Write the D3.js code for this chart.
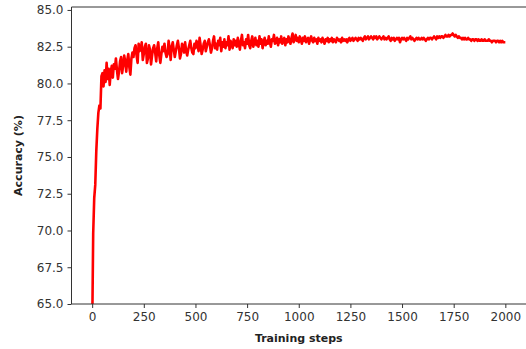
<!DOCTYPE html>
<html>
<head>
<meta charset="utf-8">
<script src="https://cdn.jsdelivr.net/npm/d3@7"></script>
<style>
  html, body { margin: 0; padding: 0; background: #fff; }
  svg { display: block; }
</style>
</head>
<body>
<svg id="chart" width="526" height="349"></svg>
<script>
// ---- data ----
const stepInterval = 5; // accuracy sampled every 5 training steps, from step 0 to 2000
const accuracy = [
  63.0, 69.8, 72.2, 73.1, 75.4, 76.9, 78.0, 78.5, 78.3, 80.5,
  80.7, 79.8, 80.9, 80.1, 81.4, 80.3, 81.0, 79.9, 80.8, 81.2,
  80.4, 81.3, 81.0, 81.7, 80.9, 80.3, 80.8, 81.5, 81.8, 80.7,
  81.2, 81.9, 81.5, 80.8, 81.6, 82.0, 81.1, 80.6, 81.7, 82.1,
  81.8, 82.4, 82.6, 81.9, 81.4, 82.7, 82.2, 82.3, 82.8, 81.6,
  82.0, 82.5, 82.7, 81.4, 81.7, 82.6, 82.3, 81.3, 81.9, 82.4,
  82.6, 82.1, 81.5, 82.4, 82.8, 81.9, 81.4, 82.0, 82.5, 82.2,
  82.7, 82.1, 81.8, 82.0, 82.9, 82.4, 81.6, 82.5, 82.8, 82.3,
  81.8, 82.2, 82.6, 82.9, 82.4, 81.7, 82.0, 82.7, 82.5, 82.1,
  82.8, 82.2, 81.9, 82.3, 82.6, 82.9, 82.4, 82.1, 82.0, 82.7,
  82.4, 82.9, 82.7, 82.2, 83.1, 82.6, 82.0, 82.3, 82.7, 82.9,
  82.2, 82.5, 82.8, 83.0, 82.6, 82.1, 82.4, 82.9, 83.2, 82.4,
  82.7, 82.3, 82.9, 82.6, 83.1, 82.2, 82.8, 82.5, 83.0, 82.4,
  82.8, 82.6, 83.2, 82.3, 82.9, 82.7, 82.4, 83.0, 82.6, 82.9,
  82.5, 83.1, 82.7, 82.3, 82.9, 83.3, 82.6, 82.8, 82.4, 83.0,
  82.7, 83.3, 82.6, 82.4, 82.9, 83.2, 82.5, 82.8, 83.1, 82.6,
  82.9, 82.5, 83.2, 82.7, 83.0, 82.4, 82.8, 83.1, 82.6, 82.9,
  82.7, 83.2, 82.8, 82.5, 83.0, 82.9, 83.3, 82.7, 82.8, 83.1,
  82.6, 83.0, 82.8, 83.2, 82.7, 82.9, 83.1, 82.6, 83.0, 82.8,
  83.2, 82.9, 82.7, 83.1, 83.4, 82.8, 83.0, 83.3, 82.9, 83.1,
  82.8, 83.2, 83.0, 82.7, 83.1, 82.9, 83.2, 82.8, 83.0, 83.1,
  82.7, 83.0, 83.2, 82.9, 82.8, 83.1, 82.9, 83.0, 82.7, 83.1,
  82.9, 83.0, 82.8, 83.1, 82.9, 82.7, 83.0, 82.9, 83.1, 82.8,
  83.0, 82.9, 83.1, 82.8, 83.0, 82.9, 82.8, 83.1, 83.0, 82.9,
  83.0, 82.8, 83.1, 82.9, 83.0, 82.9, 83.0, 82.8, 83.0, 83.1,
  82.9, 83.0, 83.1, 82.9, 83.0, 83.1, 83.0, 82.9, 83.1, 83.0,
  83.1, 83.0, 82.9, 83.1, 83.2, 83.0, 83.1, 83.2, 83.0, 83.1,
  83.2, 83.1, 83.0, 83.2, 83.1, 83.2, 83.0, 83.1, 83.2, 83.1,
  83.0, 83.1, 83.2, 83.0, 83.1, 83.0, 83.1, 83.2, 83.0, 82.9,
  83.1, 83.0, 83.1, 82.9, 83.0, 83.1, 83.0, 83.1, 82.8, 83.0,
  83.1, 83.0, 83.1, 83.0, 82.9, 83.1, 83.0, 83.1, 83.2, 83.0,
  83.1, 83.0, 82.9, 83.0, 83.1, 83.0, 83.1, 83.0, 83.0, 83.1,
  83.0, 83.1, 83.0, 82.9, 83.0, 83.1, 83.0, 83.1, 83.1, 83.0,
  83.1, 83.2, 83.1, 83.0, 83.2, 83.1, 83.2, 83.1, 83.2, 83.2,
  83.1, 83.2, 83.3, 83.2, 83.2, 83.3, 83.2, 83.3, 83.3, 83.4,
  83.3, 83.2, 83.3, 83.2, 83.1, 83.2, 83.1, 83.1, 83.0, 83.1,
  83.0, 83.1, 83.0, 83.0, 83.1, 83.0, 83.0, 82.9, 83.0, 83.0,
  82.9, 83.0, 83.0, 82.9, 83.0, 82.9, 82.9, 83.0, 82.9, 82.9,
  83.0, 82.9, 82.9, 82.9, 83.0, 82.9, 82.9, 82.8, 82.9, 82.9,
  82.9, 82.8, 82.9, 82.9, 82.8, 82.9, 82.8, 82.9, 82.8, 82.8,
  82.8
];
const xTicks = [0, 250, 500, 750, 1000, 1250, 1500, 1750, 2000];
const yTicks = [65.0, 67.5, 70.0, 72.5, 75.0, 77.5, 80.0, 82.5, 85.0];
const xDomain = [-100, 2100];
const yDomain = [65, 85.2];
const xLabel = "Training steps";
const yLabel = "Accuracy (%)";

// ---- layout ----
const margin = { left: 71.5, right: 0, top: 7, bottom: 45 };
const W = 526, H = 349;
const svg = d3.select("#chart");
const x = d3.scaleLinear().domain(xDomain).range([margin.left, W - margin.right]);
const y = d3.scaleLinear().domain(yDomain).range([H - margin.bottom, margin.top]);

const font = "'DejaVu Sans', sans-serif";

svg.append("defs").append("clipPath").attr("id", "clip")
  .append("rect")
  .attr("x", margin.left).attr("y", margin.top)
  .attr("width", W - margin.right - margin.left)
  .attr("height", H - margin.bottom - margin.top);

const series = accuracy.map((v, i) => ({ step: i * stepInterval, v }));

svg.append("path")
  .datum(series)
  .attr("clip-path", "url(#clip)")
  .attr("fill", "none")
  .attr("stroke", "#ff0000")
  .attr("stroke-width", 2.6)
  .attr("stroke-linejoin", "round")
  .attr("d", d3.line().x(d => x(d.step)).y(d => y(d.v)));

// axes
const xAxis = d3.axisBottom(x).tickValues(xTicks).tickFormat(d3.format("d")).tickSizeOuter(0).tickSize(4).tickPadding(4);
const yAxis = d3.axisLeft(y).tickValues(yTicks).tickFormat(d3.format(".1f")).tickSizeOuter(0).tickSize(4).tickPadding(4);

const gx = svg.append("g").attr("transform", `translate(0,${H - margin.bottom})`).call(xAxis);
const gy = svg.append("g").attr("transform", `translate(${margin.left},0)`).call(yAxis);

[gx, gy].forEach(g => {
  g.select(".domain").remove();
  g.selectAll(".tick line").attr("stroke", "#333").attr("stroke-width", 1);
  g.selectAll(".tick text").attr("fill", "#333").style("font-family", font).style("font-size", "12px");
});

// spines (right spine falls outside the picture)
const spine = svg.append("g").attr("fill", "none").attr("stroke", "#333").attr("stroke-width", 1);
spine.append("line").attr("x1", margin.left).attr("x2", margin.left).attr("y1", margin.top).attr("y2", H - margin.bottom);
spine.append("line").attr("x1", margin.left).attr("x2", W).attr("y1", H - margin.bottom).attr("y2", H - margin.bottom);
spine.append("line").attr("x1", margin.left).attr("x2", W).attr("y1", margin.top).attr("y2", margin.top);

// labels
svg.append("text")
  .attr("x", x(1000)).attr("y", 342)
  .attr("text-anchor", "middle")
  .style("font-family", font).style("font-size", "11px").style("font-weight", "bold")
  .attr("fill", "#222")
  .text(xLabel);

svg.append("text")
  .attr("transform", `translate(22,${(margin.top + H - margin.bottom) / 2}) rotate(-90)`)
  .attr("text-anchor", "middle")
  .style("font-family", font).style("font-size", "11px").style("font-weight", "bold")
  .attr("fill", "#222")
  .text(yLabel);
</script>
</body>
</html>
